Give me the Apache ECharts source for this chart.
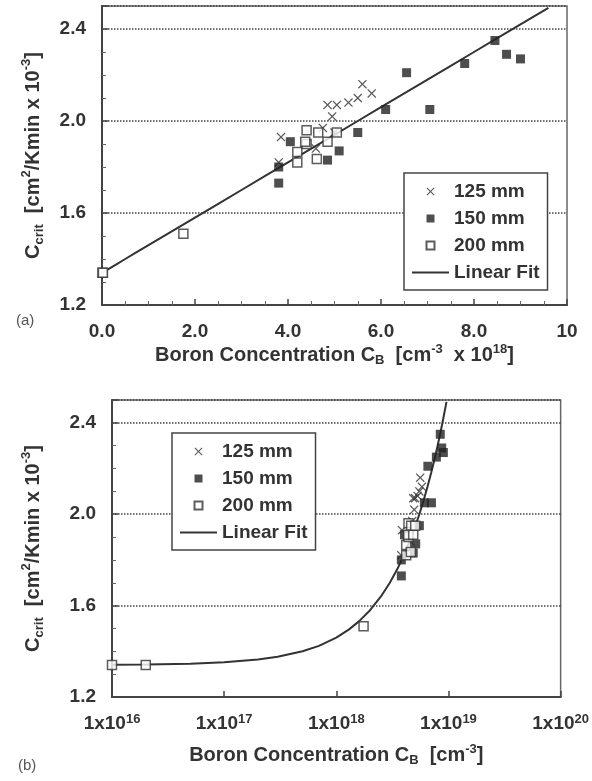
<!DOCTYPE html>
<html><head><meta charset="utf-8">
<script src="https://cdn.jsdelivr.net/npm/echarts@6/dist/echarts.min.js"></script>
<style>html,body{margin:0;padding:0;background:#fff}#c{width:592px;height:781px}</style>
</head><body><div id="c"></div>
<script>
// Boron concentration in units of 1e18 cm^-3, Ccrit in cm^2/Kmin x 1e-3
const x125 = [3.80, 3.85, 4.60, 4.75, 4.85, 4.95, 5.05, 5.00, 5.30, 5.50, 5.60, 5.80];
const y125 = [1.82, 1.93, 1.88, 1.97, 2.07, 2.02, 2.07, 1.95, 2.08, 2.10, 2.16, 2.12];
const x150 = [3.80, 3.80, 4.05, 4.85, 5.10, 5.50, 6.10, 6.55, 7.05, 7.80, 8.45, 8.70, 9.00];
const y150 = [1.73, 1.80, 1.91, 1.83, 1.87, 1.95, 2.05, 2.21, 2.05, 2.25, 2.35, 2.29, 2.27];
const x200 = [0.01, 0.02, 1.75, 4.20, 4.20, 4.40, 4.40, 4.37, 4.62, 4.65, 4.85, 5.05];
const y200 = [1.34, 1.34, 1.51, 1.82, 1.865, 1.96, 1.90, 1.91, 1.835, 1.95, 1.91, 1.95];
// linear fit read along the drawn fit line / curve
const fitX = [0.01, 0.02, 0.05, 0.1, 0.2, 0.3, 0.5, 0.7, 1.0, 1.3, 1.6, 2.0, 2.5, 3.0, 3.5, 4.0, 4.5, 5.0, 5.5, 6.0, 6.5, 7.0, 7.5, 8.0, 8.5, 9.0, 9.6];
const fitY = [1.341, 1.342, 1.346, 1.352, 1.364, 1.376, 1.40, 1.424, 1.46, 1.496, 1.532, 1.58, 1.64, 1.70, 1.76, 1.82, 1.88, 1.94, 2.00, 2.06, 2.12, 2.18, 2.24, 2.30, 2.36, 2.42, 2.492];
const seriesNames = ['125 mm', '150 mm', '200 mm', 'Linear Fit'];
const yTicks = [1.2, 1.6, 2.0, 2.4];
const xTicksTop = [0, 2, 4, 6, 8, 10];

const FONT = 'Liberation Sans';
const TXT = '#333';
const pairs = (xs, ys) => xs.map((x, i) => [x, ys[i]]);
const crossPath = 'path://M0,1L1,0L5,4L9,0L10,1L6,5L10,9L9,10L5,6L1,10L0,9L4,5Z';
const squarePath = 'path://M0,0L10,0L10,10L0,10Z';
const barPath = 'path://M0,0L37,0L37,2L0,2Z';

const richBase = {
  s: {fontFamily: FONT, fontWeight: 'bold', fontSize: 13, lineHeight: 12, verticalAlign: 'top', color: TXT},
  b: {fontFamily: FONT, fontWeight: 'bold', fontSize: 13, lineHeight: 12, verticalAlign: 'bottom', color: TXT}
};

function yAxis(gridIndex, gap) {
  return {
    type: 'value', gridIndex, min: 1.2, max: 2.5, interval: 0.4,
    name: 'C{b|crit}  [cm{s|2}/Kmin x 10{s|-3}]',
    nameLocation: 'middle', nameGap: gap, nameRotate: 90,
    nameTextStyle: {fontFamily: FONT, fontWeight: 'bold', fontSize: 20, lineHeight: 26, color: TXT, rich: richBase},
    axisLine: {show: true, lineStyle: {color: '#444', width: 2}},
    axisTick: {show: true, inside: true, length: 6, lineStyle: {color: '#444', width: 1.5}},
    minorTick: {show: true, splitNumber: 4, length: 4, lineStyle: {color: '#666', width: 1}},
    axisLabel: {fontFamily: FONT, fontWeight: 'bold', fontSize: 19, color: TXT, margin: 16,
      showMaxLabel: false,
      formatter: v => yTicks.some(t => Math.abs(t - v) < 1e-6) ? v.toFixed(1) : ''},
    splitLine: {show: true, lineStyle: {type: 'dotted', color: '#444', width: 1.5}}
  };
}

function scatterSeries(xi, yi) {
  const mk = (name, xs, ys, style) => Object.assign({
    name, type: 'scatter', xAxisIndex: xi, yAxisIndex: yi, symbolKeepAspect: true,
    data: pairs(xs, ys), z: 3
  }, style);
  return [
    mk('125 mm', x125, y125, {symbol: crossPath, symbolSize: 9, itemStyle: {color: '#333'}}),
    mk('150 mm', x150, y150, {symbol: squarePath, symbolSize: 9, itemStyle: {color: '#222'}}),
    mk('200 mm', x200, y200, {symbol: squarePath, symbolSize: 9, itemStyle: {color: '#fff', borderColor: '#333', borderWidth: 1.5}}),
    {name: 'Linear Fit', type: 'line', xAxisIndex: xi, yAxisIndex: yi, data: pairs(fitX, fitY),
      showSymbol: false, symbol: 'none',
      lineStyle: {color: '#333', width: 2}, itemStyle: {color: '#333'}, z: 2}
  ];
}

function legend(left, top) {
  return {
    data: [
      {name: '125 mm'}, {name: '150 mm'}, {name: '200 mm'},
      {name: 'Linear Fit', icon: barPath}
    ],
    orient: 'vertical', left, top,
    padding: [9, 8, 8, 8], itemWidth: 37, itemHeight: 8, itemGap: 8,
    backgroundColor: '#fff', borderColor: '#444', borderWidth: 1.5,
    selectedMode: false,
    textStyle: {fontFamily: FONT, fontWeight: 'bold', fontSize: 19, lineHeight: 17, color: TXT}
  };
}

const option = {
  animation: false,
  backgroundColor: '#fff',
  grid: [
    {left: 102, top: 6, width: 465, height: 299, show: true, borderColor: '#666', borderWidth: 1.5},
    {left: 112, top: 400, width: 463, height: 297, show: true, borderColor: '#666', borderWidth: 1.5}
  ],
  xAxis: [
    {type: 'value', gridIndex: 0, min: 0, max: 10, interval: 2,
      name: 'Boron Concentration C{b|B}  [cm{s|-3}  x 10{s|18}]',
      nameLocation: 'middle', nameGap: 38,
      nameTextStyle: {fontFamily: FONT, fontWeight: 'bold', fontSize: 20, lineHeight: 24, color: TXT, rich: richBase},
      axisLine: {show: true, lineStyle: {color: '#444', width: 2}},
      axisTick: {show: true, inside: true, length: 6, lineStyle: {color: '#444', width: 1.5}},
      minorTick: {show: true, splitNumber: 4, length: 4, lineStyle: {color: '#666', width: 1}},
      axisLabel: {fontFamily: FONT, fontWeight: 'bold', fontSize: 19, color: TXT, margin: 17,
        formatter: v => xTicksTop.includes(v) ? (v === 10 ? '10' : v.toFixed(1)) : ''},
      splitLine: {show: false}},
    {type: 'log', logBase: 10, gridIndex: 1, min: 0.01, max: 100,
      name: 'Boron Concentration C{b|B}  [cm{s|-3}]',
      nameLocation: 'middle', nameGap: 46,
      nameTextStyle: {fontFamily: FONT, fontWeight: 'bold', fontSize: 20, lineHeight: 24, color: TXT, rich: richBase},
      axisLine: {show: true, lineStyle: {color: '#444', width: 2}},
      axisTick: {show: true, inside: true, length: 6, lineStyle: {color: '#444', width: 1.5}},
      axisLabel: {fontFamily: FONT, fontWeight: 'bold', fontSize: 19, lineHeight: 22, color: TXT, margin: 16,
        showMaxLabel: true,
        formatter: v => '1x10{s|' + (Math.round(Math.log10(v)) + 18) + '}',
        rich: richBase},
      splitLine: {show: false}}
  ],
  yAxis: [yAxis(0, 56), yAxis(1, 66)],
  legend: [legend(404, 173), legend(172, 433)],
  series: [...scatterSeries(0, 0), ...scatterSeries(1, 1)],
  graphic: [
    {type: 'text', left: 16, top: 313, style: {text: '(a)', fontFamily: FONT, fontSize: 15, fill: '#555'}},
    {type: 'text', left: 18, top: 758, style: {text: '(b)', fontFamily: FONT, fontSize: 15, fill: '#555'}}
  ]
};

const chart = echarts.init(document.getElementById('c'), null, {renderer: 'canvas'});
chart.setOption(option);
</script>
</body></html>
